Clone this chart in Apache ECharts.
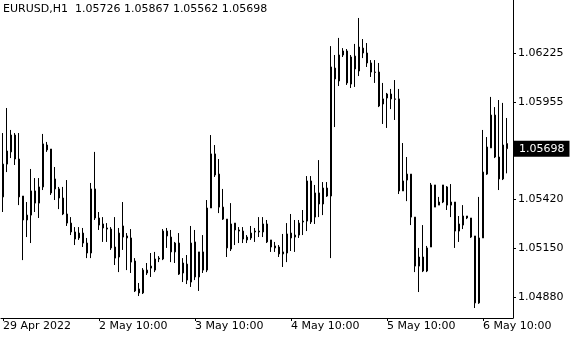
<!DOCTYPE html>
<html><head><meta charset="utf-8">
<script src="https://cdn.jsdelivr.net/npm/echarts@6/dist/echarts.min.js"></script>
<style>html,body{margin:0;padding:0;background:#fff}#c{width:580px;height:340px}</style>
</head><body><div id="c"></div>
<script>
const symbolTitle = "EURUSD,H1";
const opens = [
1.05432,1.05613,1.05680,1.05773,1.05641,1.05437,1.05305,1.05332,1.05465,1.05398,
1.05487,1.05718,1.05696,1.05531,1.05476,1.05426,1.05338,1.05288,1.05239,1.05206,
1.05233,1.05178,1.05123,1.05476,1.05316,1.05283,1.05261,1.05255,1.05156,1.05101,
1.05272,1.05217,1.05206,1.05079,1.04925,1.04903,1.05029,1.05040,1.05029,1.05090,
1.05090,1.05244,1.05211,1.05129,1.05178,1.05013,1.05062,1.04963,1.05184,1.04991,
1.05129,1.05029,1.05371,1.05669,1.05558,1.05376,1.05310,1.05145,1.05288,1.05250,
1.05244,1.05195,1.05206,1.05239,1.05239,1.05239,1.05283,1.05195,1.05162,1.05156,
1.05118,1.05123,1.05233,1.05211,1.05222,1.05294,1.05299,1.05520,1.05321,1.05454,
1.05393,1.05481,1.05437,1.06142,1.06071,1.06214,1.06236,1.06054,1.06208,1.06126,
1.06252,1.06225,1.06170,1.06120,1.06120,1.05944,1.05977,1.05999,1.05972,1.05972,
1.05465,1.05525,1.05558,1.05321,1.05051,1.05101,1.05024,1.05156,1.05498,1.05387,
1.05404,1.05487,1.05387,1.05404,1.05244,1.05277,1.05327,1.05316,1.05217,1.04848,
1.05206,1.05558,1.05702,1.05883,1.05652,1.05531,1.05726];
const highs = [
1.05784,1.05922,1.05801,1.05784,1.05784,1.05437,1.05404,1.05586,1.05536,1.05536,
1.05779,1.05735,1.05696,1.05597,1.05487,1.05487,1.05525,1.05321,1.05266,1.05266,
1.05261,1.05206,1.05509,1.05680,1.05349,1.05321,1.05288,1.05266,1.05321,1.05261,
1.05404,1.05233,1.05255,1.05095,1.04958,1.05040,1.05068,1.05123,1.05129,1.05106,
1.05255,1.05261,1.05250,1.05184,1.05233,1.05095,1.05112,1.05272,1.05250,1.05129,
1.05222,1.05415,1.05773,1.05718,1.05641,1.05476,1.05310,1.05398,1.05288,1.05266,
1.05266,1.05222,1.05272,1.05261,1.05321,1.05321,1.05305,1.05195,1.05184,1.05167,
1.05228,1.05288,1.05338,1.05305,1.05305,1.05360,1.05547,1.05547,1.05498,1.05635,
1.05514,1.05514,1.06263,1.06214,1.06308,1.06252,1.06247,1.06214,1.06275,1.06418,
1.06302,1.06280,1.06186,1.06186,1.06170,1.06060,1.06005,1.06027,1.06076,1.06027,
1.05729,1.05652,1.05558,1.05321,1.05151,1.05277,1.05162,1.05509,1.05498,1.05432,
1.05498,1.05492,1.05503,1.05404,1.05327,1.05387,1.05327,1.05316,1.05217,1.05432,
1.05801,1.05762,1.05983,1.05927,1.05966,1.05950,1.05867];
const lows = [
1.05349,1.05569,1.05646,1.05608,1.05387,1.05084,1.05211,1.05178,1.05349,1.05316,
1.05470,1.05680,1.05443,1.05415,1.05365,1.05332,1.05272,1.05222,1.05167,1.05195,
1.05156,1.05095,1.05095,1.05305,1.05250,1.05184,1.05184,1.05140,1.05057,1.05018,
1.05140,1.05029,1.05013,1.04908,1.04886,1.04897,1.05002,1.04991,1.05018,1.05073,
1.05084,1.05151,1.05073,1.05068,1.05002,1.04963,1.04952,1.04936,1.04974,1.04914,
1.05013,1.05018,1.05371,1.05542,1.05343,1.05305,1.05101,1.05134,1.05167,1.05178,
1.05178,1.05178,1.05195,1.05184,1.05211,1.05211,1.05178,1.05129,1.05129,1.05101,
1.05046,1.05073,1.05134,1.05129,1.05206,1.05222,1.05244,1.05283,1.05283,1.05321,
1.05332,1.05432,1.05095,1.05817,1.06043,1.06203,1.06049,1.06032,1.06038,1.06098,
1.06197,1.06148,1.06093,1.06060,1.05927,1.05834,1.05812,1.05916,1.05856,1.05448,
1.05465,1.05409,1.05277,1.05018,1.04908,1.05018,1.05018,1.05156,1.05376,1.05387,
1.05398,1.05360,1.05321,1.05151,1.05184,1.05255,1.05310,1.05206,1.04820,1.04843,
1.05206,1.05553,1.05702,1.05646,1.05470,1.05525,1.05562];
const closes = [
1.05613,1.05685,1.05773,1.05641,1.05432,1.05305,1.05332,1.05465,1.05398,1.05487,
1.05724,1.05691,1.05454,1.05476,1.05426,1.05338,1.05288,1.05239,1.05200,1.05233,
1.05178,1.05123,1.05476,1.05316,1.05277,1.05261,1.05255,1.05151,1.05095,1.05233,
1.05211,1.05206,1.05073,1.04914,1.04903,1.05029,1.05013,1.05051,1.05090,1.05095,
1.05244,1.05217,1.05129,1.05178,1.05007,1.05068,1.04974,1.05178,1.04991,1.05129,
1.05029,1.05371,1.05669,1.05553,1.05376,1.05310,1.05151,1.05283,1.05250,1.05244,
1.05200,1.05211,1.05233,1.05244,1.05244,1.05283,1.05184,1.05156,1.05151,1.05118,
1.05129,1.05228,1.05206,1.05222,1.05288,1.05299,1.05520,1.05294,1.05454,1.05393,
1.05481,1.05437,1.06148,1.06082,1.06214,1.06236,1.06060,1.06203,1.06137,1.06258,
1.06225,1.06170,1.06120,1.06118,1.05933,1.05972,1.05999,1.05972,1.05970,1.05465,
1.05520,1.05558,1.05321,1.05051,1.05101,1.05024,1.05151,1.05498,1.05376,1.05404,
1.05498,1.05387,1.05404,1.05244,1.05283,1.05327,1.05316,1.05211,1.04848,1.05206,
1.05569,1.05707,1.05883,1.05652,1.05531,1.05718,1.05698];
const xTickIndex = [0, 24, 48, 72, 96, 120];
const xTickLabels = ["29 Apr 2022", "2 May 10:00", "3 May 10:00", "4 May 10:00", "5 May 10:00", "6 May 10:00"];
const yTickValues = [1.04880, 1.05150, 1.05420, 1.05955, 1.06225];
const yMin = 1.04765, yMax = 1.06517;

// hourly bar times (weekend skipped), plus one empty slot for the chart shift
const categories = [];
let t = Date.UTC(2022, 3, 29, 10);
while (categories.length < opens.length) {
  const d = new Date(t);
  const wd = d.getUTCDay();
  if (wd !== 0 && wd !== 6) {
    categories.push(d.getUTCDate() + '/' + (d.getUTCMonth() + 1) + ' ' + String(d.getUTCHours()).padStart(2, '0') + ':00');
  }
  t += 3600000;
}
categories.push('');

const candles = opens.map((o, i) => [o, closes[i], lows[i], highs[i]]);
const n = opens.length - 1;
const titleText = symbolTitle + '  ' + [opens[n], highs[n], lows[n], closes[n]].map(v => v.toFixed(5)).join(' ');
const font = 'DejaVu Sans';
const isTick = (idx) => xTickIndex.indexOf(idx) >= 0;

const chart = echarts.init(document.getElementById('c'), null, {renderer: 'canvas'});
chart.setOption({
  animation: false,
  backgroundColor: '#fff',
  title: {text: titleText, left: 3, top: 4, padding: 0,
    textStyle: {fontFamily: font, fontSize: 11, fontWeight: 'normal', color: '#000'}},
  grid: {left: 1, right: 67, top: 0, bottom: 22, containLabel: false},
  xAxis: {
    type: 'category', data: categories, boundaryGap: true,
    axisLine: {show: true, lineStyle: {color: '#000', width: 1}},
    axisTick: {show: true, interval: (i) => isTick(i), alignWithLabel: true, length: 3, lineStyle: {color: '#000'}},
    axisLabel: {interval: (i) => isTick(i), formatter: (v, i) => xTickLabels[xTickIndex.indexOf(i)],
      align: 'left', margin: 3, fontFamily: font, fontSize: 11, color: '#000'},
    splitLine: {show: false}
  },
  yAxis: {
    type: 'value', position: 'right', min: yMin, max: yMax, scale: true,
    axisLine: {show: true, lineStyle: {color: '#000', width: 1}},
    axisTick: {show: true, customValues: yTickValues, length: 3, lineStyle: {color: '#000'}},
    axisLabel: {customValues: yTickValues, formatter: (v) => v.toFixed(5), margin: 5,
      fontFamily: font, fontSize: 11, color: '#000'},
    splitLine: {show: false}
  },
  series: [{
    type: 'candlestick', data: candles, barWidth: 2,
    itemStyle: {color: '#00ff00', color0: '#ff0000', borderColor: '#000', borderColor0: '#000', borderWidth: 1},
    markLine: {
      silent: true, symbol: 'none', precision: 5,
      lineStyle: {width: 1, color: 'rgba(0,0,0,0)', type: 'solid'},
      label: {show: true, position: 'end', distance: 1, formatter: (p) => Number(p.value).toFixed(5),
        backgroundColor: '#000', color: '#fff', padding: [3, 5, 2, 5], fontFamily: font, fontSize: 11},
      emphasis: {disabled: true},
      data: [{yAxis: closes[n]}]
    }
  }]
});
</script></body></html>
